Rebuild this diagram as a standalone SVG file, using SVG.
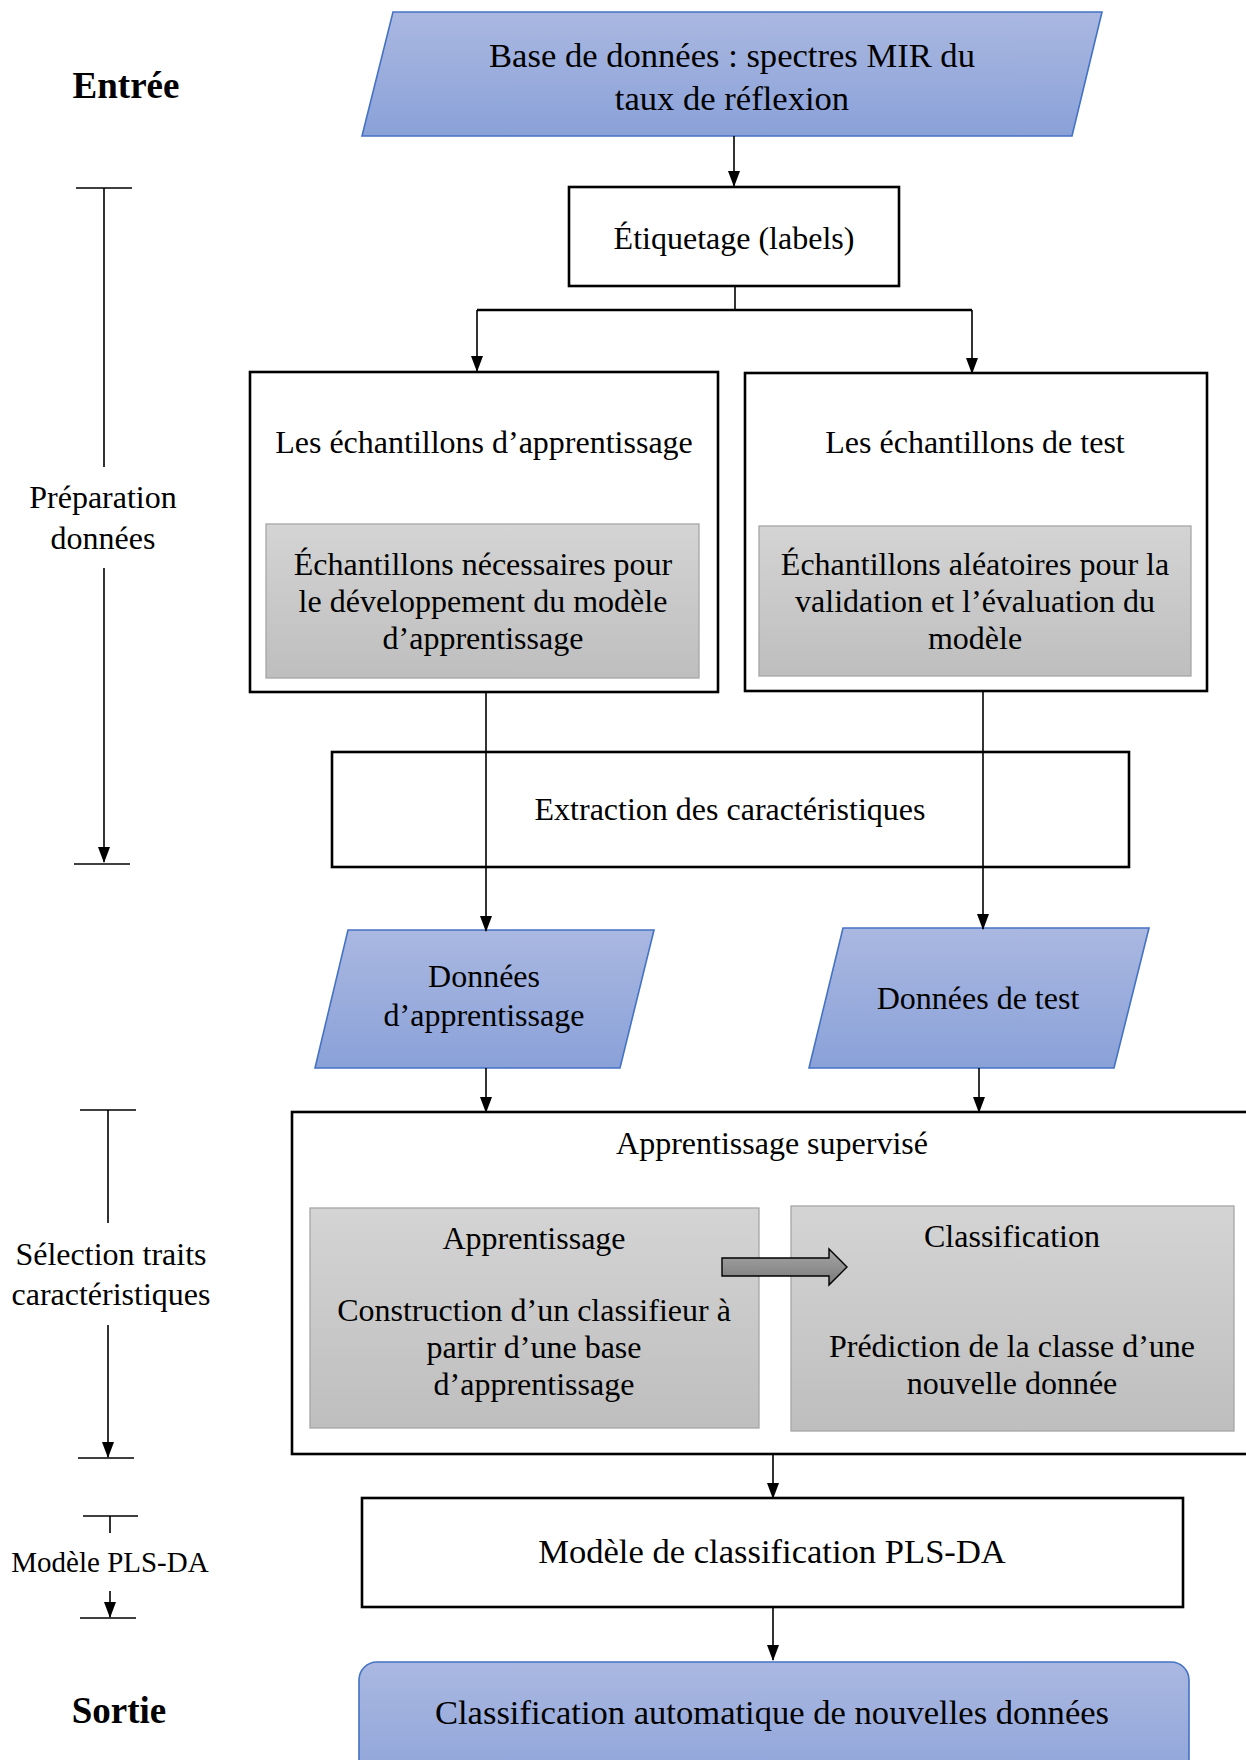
<svg xmlns="http://www.w3.org/2000/svg" width="1246" height="1760" viewBox="0 0 1246 1760">
<style>
text{font-family:"Liberation Serif","Times New Roman",serif;fill:#000;text-anchor:middle}
.t32{font-size:32px}
.t34{font-size:34.6px}
.lbl{font-size:32px}
.big{font-size:37px;font-weight:bold}
.box{fill:#fff;stroke:#000;stroke-width:2.6}
.blue{fill:url(#gBlue);stroke:#4472C4;stroke-width:1.6}
.gray{fill:url(#gGray);stroke:#A6A6A6;stroke-width:1.3}
.con{fill:none;stroke:#000;stroke-width:1.6}
.tick{fill:none;stroke:#000;stroke-width:1.6}
</style>
<defs>
<linearGradient id="gBlue" x1="0" y1="0" x2="0" y2="1">
<stop offset="0" stop-color="#AAB8E1"/>
<stop offset="1" stop-color="#8AA1D8"/>
</linearGradient>
<linearGradient id="gGray" x1="0" y1="0" x2="0" y2="1">
<stop offset="0" stop-color="#D4D4D4"/>
<stop offset="1" stop-color="#BEBEBE"/>
</linearGradient>
<linearGradient id="gArrow" x1="0" y1="0" x2="0" y2="1">
<stop offset="0" stop-color="#A6A6A6"/>
<stop offset="1" stop-color="#7A7A7A"/>
</linearGradient>
<marker id="ar" markerUnits="userSpaceOnUse" markerWidth="16" markerHeight="12" viewBox="0 0 16 12" refX="15" refY="6" orient="auto">
<path d="M0,0 L16,6 L0,12 Z" fill="#000"/>
</marker>
</defs>

<g id="side-labels">
<text class="big" x="126" y="98">Entrée</text>
<text class="lbl" x="103" y="508">Préparation</text>
<text class="lbl" x="103" y="549">données</text>
<text class="lbl" x="111" y="1265">Sélection traits</text>
<text class="lbl" x="111" y="1305">caractéristiques</text>
<text x="110" y="1572" style="font-size:29px">Modèle PLS-DA</text>
<text class="big" x="119" y="1723">Sortie</text>
</g>

<g id="side-timelines">
<path class="tick" d="M76,188 H132 M104,188 V467"/>
<path class="tick" d="M104,568 V862" marker-end="url(#ar)"/>
<path class="tick" d="M74,864 H130"/>
<path class="tick" d="M80,1110 H136 M108,1110 V1223"/>
<path class="tick" d="M108,1325 V1457" marker-end="url(#ar)"/>
<path class="tick" d="M78,1458 H134"/>
<path class="tick" d="M83,1516 H138 M110,1516 V1533"/>
<path class="tick" d="M110,1591 V1617" marker-end="url(#ar)"/>
<path class="tick" d="M80,1618 H136"/>
</g>

<g id="node-base">
<polygon class="blue" points="393,12 1102,12 1072,136 362,136"/>
<text class="t34" x="732" y="67">Base de données : spectres MIR du</text>
<text class="t34" x="732" y="110">taux de réflexion</text>
</g>

<g id="node-etiquetage">
<rect class="box" x="569" y="187" width="330" height="99"/>
<text class="t32" x="734" y="249">Étiquetage (labels)</text>
</g>

<g id="node-ech-app">
<rect class="box" x="250" y="372" width="468" height="320"/>
<text class="t32" x="484" y="453">Les échantillons d’apprentissage</text>
<rect class="gray" x="266" y="524" width="433" height="154"/>
<text class="t32" x="483" y="575">Échantillons nécessaires pour</text>
<text class="t32" x="483" y="612">le développement du modèle</text>
<text class="t32" x="483" y="649">d’apprentissage</text>
</g>

<g id="node-ech-test">
<rect class="box" x="745" y="373" width="462" height="318"/>
<text class="t32" x="975" y="453">Les échantillons de test</text>
<rect class="gray" x="759" y="526" width="432" height="150"/>
<text class="t32" x="975" y="575">Échantillons aléatoires pour la</text>
<text class="t32" x="975" y="612">validation et l’évaluation du</text>
<text class="t32" x="975" y="649">modèle</text>
</g>

<g id="node-extraction">
<rect class="box" x="332" y="752" width="797" height="115"/>
<text class="t32" x="730" y="820">Extraction des caractéristiques</text>
</g>

<g id="node-donnees-app">
<polygon class="blue" points="348,930 654,930 620,1068 315,1068"/>
<text class="t32" x="484" y="987">Données</text>
<text class="t32" x="484" y="1026">d’apprentissage</text>
</g>

<g id="node-donnees-test">
<polygon class="blue" points="843,928 1149,928 1114,1068 809,1068"/>
<text class="t32" x="978" y="1009">Données de test</text>
</g>

<g id="node-supervise">
<rect class="box" x="292" y="1112" width="1000" height="342"/>
<text class="t32" x="772" y="1154">Apprentissage supervisé</text>
</g>

<g id="node-apprentissage">
<rect class="gray" x="310" y="1208" width="449" height="220"/>
<text class="t32" x="534" y="1249">Apprentissage</text>
<text class="t32" x="534" y="1321">Construction d’un classifieur à</text>
<text class="t32" x="534" y="1358">partir d’une base</text>
<text class="t32" x="534" y="1395">d’apprentissage</text>
</g>

<g id="node-classification">
<rect class="gray" x="791" y="1206" width="443" height="225"/>
<text class="t32" x="1012" y="1247">Classification</text>
<text class="t32" x="1012" y="1357">Prédiction de la classe d’une</text>
<text class="t32" x="1012" y="1394">nouvelle donnée</text>
</g>

<g id="node-block-arrow">
<polygon points="722,1258 829,1258 829,1249 847,1267 829,1285 829,1276 722,1276" fill="url(#gArrow)" stroke="#000" stroke-width="1.4"/>
</g>

<g id="node-modele">
<rect class="box" x="362" y="1498" width="821" height="109"/>
<text class="t34" x="772" y="1563">Modèle de classification PLS-DA</text>
</g>

<g id="node-sortie">
<rect class="blue" x="359" y="1662" width="830" height="140" rx="18" ry="18"/>
<text class="t34" x="772" y="1724">Classification automatique de nouvelles données</text>
</g>

<g id="connectors">
<path class="con" d="M734,136 V186" marker-end="url(#ar)"/>
<path class="con" d="M735,286 V310"/>
<path d="M477,310 H972" fill="none" stroke="#000" stroke-width="2.6"/>
<path class="con" d="M477,310 V371" marker-end="url(#ar)"/>
<path class="con" d="M972,310 V373" marker-end="url(#ar)"/>
<path class="con" d="M486,692 V931" marker-end="url(#ar)"/>
<path class="con" d="M983,691 V929" marker-end="url(#ar)"/>
<path class="con" d="M486,1068 V1112" marker-end="url(#ar)"/>
<path class="con" d="M979,1068 V1112" marker-end="url(#ar)"/>
<path class="con" d="M773,1454 V1498" marker-end="url(#ar)"/>
<path class="con" d="M773,1607 V1660" marker-end="url(#ar)"/>
</g>
</svg>
